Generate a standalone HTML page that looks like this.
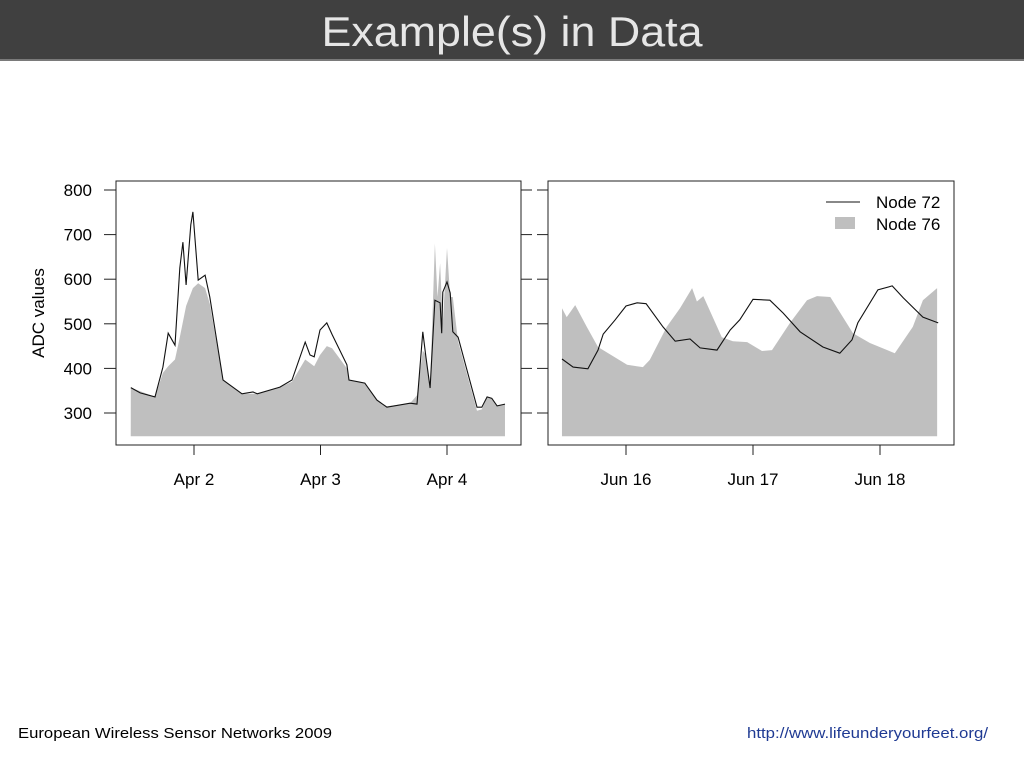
<!DOCTYPE html>
<html><head><meta charset="utf-8"><style>
html,body{margin:0;padding:0;background:#fff;width:1024px;height:768px;overflow:hidden}
svg{display:block;font-family:"Liberation Sans",Arial,sans-serif}
</style></head><body>
<svg id="c" width="1024" height="768" viewBox="0 0 1024 768">
<rect x="0" y="0" width="1024" height="59" fill="#404040"/>
<rect x="0" y="59" width="1024" height="2" fill="#7a7a7a"/>
<text x="512" y="46" text-anchor="middle" font-size="42" fill="#e6e6e6" textLength="381" lengthAdjust="spacingAndGlyphs">Example(s) in Data</text>
<text x="18" y="738" font-size="15" fill="#000" textLength="314" lengthAdjust="spacingAndGlyphs">European Wireless Sensor Networks 2009</text>
<text x="988" y="738" font-size="15" fill="#1f3a93" text-anchor="end" textLength="241" lengthAdjust="spacingAndGlyphs">http://www.lifeunderyourfeet.org/</text>
<text transform="translate(44,313) rotate(-90)" text-anchor="middle" font-size="17">ADC values</text>
<g id="plots"></g>
</svg>
<script>
// Y axis
const yTicks = [300, 400, 500, 600, 700, 800];
const baseValue = 248;
// Left panel: hours since Apr 1 00:00
const leftTicks = [24, 48, 72];
const leftTickLabels = ["Apr  2", "Apr  3", "Apr  4"];
const lineHoursL = [12,13.8,16.6,18.1,19.1,20.4,21.3,21.9,22.5,23.4,23.8,24.8,26.1,27.0,29.5,33.1,35.2,36.0,40.3,42.6,45.1,46.0,46.8,47.9,49.2,50.2,53.0,53.4,56.4,58.7,60.6,65.0,66.3,67.4,68.0,68.8,69.7,70.7,71.0,71.2,72.0,72.6,73.1,74.1,77.7,78.6,79.6,80.5,81.5,83.0];
const node72L = [357,345,336,403,479,452,625,683,587,722,751,598,609,560,374,343,347,343,358,374,459,430,426,486,502,476,408,374,367,329,313,322,320,482,426,356,553,547,479,571,594,569,482,470,313,313,336,333,316,320];
const fillHoursL = [12,16.6,18.1,19.1,20.4,21.3,22.5,23.8,24.8,26.1,27,29.5,33.1,36,40.3,42.6,45.1,46.8,47.9,49.2,50.2,53,53.4,56.4,58.7,60.6,65,66.3,67.4,68,68.8,69.7,70.2,70.7,71.2,72,72.6,73.1,74.1,77.7,78.6,79.6,80.5,81.5,83];
const node76L = [357,336,390,405,420,470,540,580,591,580,545,374,343,343,358,370,420,405,430,450,445,400,374,367,329,315,322,340,440,430,360,680,560,636,500,670,560,560,460,305,308,336,333,316,320];
// Right panel: hours since Jun 16 00:00
const rightTicks = [0, 24, 48];
const rightTickLabels = ["Jun 16", "Jun 17", "Jun 18"];
const lineHoursR = [-12.1,-10.0,-7.2,-5.3,-4.3,-2.1,0,2.1,3.8,7.0,9.3,12.1,14.0,17.2,19.7,21.5,24.0,27.2,29.7,32.9,37.2,40.4,42.7,43.8,47.6,50.3,52.4,56.1,59.0];
const node72R = [421,403,399,441,477,508,540,547,545,493,461,466,446,441,486,509,555,553,524,482,448,434,464,502,576,585,558,515,502];
const fillHoursR = [-12.1,-11.2,-9.6,-7.4,-5.3,0.2,3.2,4.5,7.7,10.2,12.5,13.4,14.6,18.1,20.2,22.9,25.7,27.6,31.0,34.2,36.1,38.6,42.9,46.1,50.8,54.2,56.1,58.8];
const node76R = [535,515,542,493,448,408,403,419,493,535,580,550,562,470,461,459,439,441,502,553,562,560,479,457,434,493,553,580];

const NS = "http://www.w3.org/2000/svg";
const g = document.getElementById('plots');
function el(tag, attrs, parent) {
  const e = document.createElementNS(NS, tag);
  for (const k in attrs) e.setAttribute(k, attrs[k]);
  (parent || g).appendChild(e);
  return e;
}
function yScale(v) { return 190 + (800 - v) * 0.446; }

function panel(name, box, xs, tHours, tLabels, fh, fv, lh, lv, leftAxis) {
  const grp = el('g', {});
  
  
  // fill
  let d = 'M' + xs(fh[0]) + ',' + yScale(baseValue);
  for (let i = 0; i < fh.length; i++) d += ' L' + xs(fh[i]).toFixed(1) + ',' + yScale(fv[i]).toFixed(1);
  d += ' L' + xs(fh[fh.length - 1]) + ',' + yScale(baseValue) + 'Z';
  const area = el('path', {d: d, fill: '#bfbfbf'}, grp);
  
  
  let p = '';
  for (let i = 0; i < lh.length; i++) p += (i ? ' L' : 'M') + xs(lh[i]).toFixed(1) + ',' + yScale(lv[i]).toFixed(1);
  const line = el('path', {d: p, fill: 'none', stroke: '#111', 'stroke-width': 1.1}, grp);
  
  
  const fr = el('rect', {x: box[0], y: box[1], width: box[2] - box[0], height: box[3] - box[1], fill: 'none', stroke: '#222', 'stroke-width': 1}, grp);
  
  
  tHours.forEach((h, i) => {
    const x = xs(h);
    const t = el('line', {x1: x, x2: x, y1: box[3], y2: box[3] + 10, stroke: '#222'}, grp);
    
    
    const tx = el('text', {x: x, y: 485, 'text-anchor': 'middle', 'font-size': 17, 'xml:space': 'preserve'}, grp);
    
    
    tx.textContent = tLabels[i];
  });
  yTicks.forEach(v => {
    const y = yScale(v);
    if (leftAxis) {
      const t = el('line', {x1: box[0] - 12, x2: box[0], y1: y, y2: y, stroke: '#222'}, grp);
      
      
      const tx = el('text', {x: 92, y: y + 6, 'text-anchor': 'end', 'font-size': 17}, grp);
      
      
      tx.textContent = v;
      const t2 = el('line', {x1: box[2], x2: box[2] + 11, y1: y, y2: y, stroke: '#222'}, grp);
      
      
    } else {
      const t = el('line', {x1: box[0] - 11, x2: box[0], y1: y, y2: y, stroke: '#222'}, grp);
      
      
    }
  });
}
panel('left-panel', [116, 181, 521, 445], h => 194 + (h - 24) * 126.5 / 24, leftTicks, leftTickLabels, fillHoursL, node76L, lineHoursL, node72L, true);
panel('right-panel', [548, 181, 954, 445], h => 626 + h * 127 / 24, rightTicks, rightTickLabels, fillHoursR, node76R, lineHoursR, node72R, false);

// legend
const lg = el('g', {});


const l1 = el('line', {x1: 826, x2: 860, y1: 202, y2: 202, stroke: '#111', 'stroke-width': 1.1}, lg);


const t1 = el('text', {x: 876, y: 208, 'font-size': 17}, lg);


t1.textContent = 'Node 72';
const r2 = el('rect', {x: 835, y: 217, width: 20, height: 12, fill: '#bfbfbf'}, lg);


const t2 = el('text', {x: 876, y: 230, 'font-size': 17}, lg);


t2.textContent = 'Node 76';
</script>
</body></html>
